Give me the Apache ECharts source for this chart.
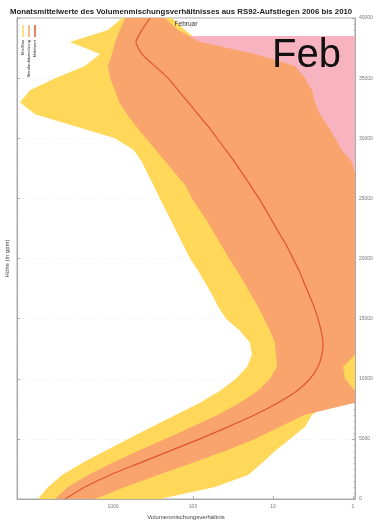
<!DOCTYPE html>
<html>
<head>
<meta charset="utf-8">
<script src="https://cdn.jsdelivr.net/npm/echarts@6/dist/echarts.min.js"></script>
<style>
  html, body { margin: 0; padding: 0; background: #fff; }
  #chart { width: 376px; height: 524px; }
</style>
</head>
<body>
<div id="chart"></div>
<script>
// Höhenstufen in gpm
const heights = [0, 1000, 2000, 3000, 4000, 5000, 6000, 7000, 8000, 9000,
    10000, 11000, 12000, 13000, 14000, 15000, 16000, 17000, 18000, 19000,
    20000, 21000, 22000, 23000, 24000, 25000, 26000, 27000, 28000, 29000,
    30000, 31000, 32000, 33000, 34000, 35000, 36000, 37000, 38000, 39000, 40000]

// Mittelwert
const meanMix = [3980, 2240, 1090, 460, 194, 81.8, 36.5, 16.8, 8.66, 5.01,
    3.45, 2.74, 2.44, 2.37, 2.51, 2.74, 3.07, 3.55, 4.10, 4.73,
    5.62, 6.68, 8.18, 10, 12.2, 15.0, 18.8, 23.7, 29.9, 38.7,
    50.1, 64.9, 86.6, 115, 154, 205, 299, 434, 516, 434, 345]

// Standardabweichung (orange), linke und rechte Kante
const sdMax = [5310, 3650, 2050, 1030, 487, 224, 103, 48.7, 25.9, 15.4,
    10.9, 8.91, 9.17, 9.44, 10.9, 12.9, 15.4, 18.8, 23.0, 28.2,
    35.5, 43.4, 53.1, 64.9, 81.8, 103, 122, 163, 218, 290,
    387, 516, 668, 841, 944, 1090, 1155, 1030, 944, 818, 708]
const sdMin = [1680, 708, 274, 103, 39.8, 16.8, 8.18, 3.98, 0.917, 0.613,
    1.26, 1.33, 0.46, 0.46, 0.46, 0.46, 0.46, 0.46, 0.46, 0.46,
    0.46, 0.46, 0.46, 0.46, 0.46, 0.46, 0.46, 0.46, 1.03, 1.37,
    1.68, 2.05, 2.59, 2.99, 3.25, 3.98, 5.31, 16.8, 81.8, 154, 224]

// Spannweite (gelb)
const rangeMax = [8660, 6490, 4340, 2440, 1260, 649, 325, 163, 81.8, 46.0,
    29.0, 21.1, 18.3, 19.4, 25.9, 38.7, 48.7, 57.9, 70.8, 86.6,
    109, 130, 154, 183, 218, 259, 307, 365, 434, 546,
    944, 2985, 9440, 14540, 10900, 5310, 2240, 1450, 3450, 1155, 772]
const rangeMin = [259, 53.1, 20.5, 13.7, 9.44, 6.13, 3.98, 3.25, 1.94, 0.708,
    0.613, 0.708, 0.46, 0.46, 0.46, 0.46, 0.46, 0.46, 0.46, 0.46,
    0.46, 0.46, 0.46, 0.46, 0.46, 0.46, 0.46, 0.46, 0.46, 0.46,
    0.46, 0.46, 0.46, 0.46, 0.46, 0.46, 0.46, 0.46, 81.8, 126, 183]

// oberer Bereich (rosa)
const pinkHeights = [26000, 28000, 30000, 32000, 34000, 36000, 37000, 38000, 38500]
const pinkMax = [18.8, 18.8, 50, 86.6, 115, 154, 205, 194, 145]
const pinkMin = [0.3, 0.3, 0.3, 0.3, 0.3, 0.3, 0.3, 0.3, 0.3]

const xTicks = [1, 10, 100, 1000]

const AXIS = '#aaa'
const LABEL = '#777'
const FONT = 'Liberation Sans, Arial, sans-serif'

function clampPts(pts, r) {
    return pts.map(p => [
        Math.min(Math.max(p[0], r.x), r.x + r.width),
        Math.min(Math.max(p[1], r.y), r.y + r.height)
    ])
}

function band(name, hs, left, right, color) {
    return {
        type: 'custom',
        name: name,
        data: hs.map((h, i) => [left[i], right[i], h]),
        encode: { x: [0, 1], y: 2 },
        silent: true,
        renderItem: (params, api) => {
            if (params.dataIndexInside !== 0) return null
            const n = params.dataInsideLength
            const pts = []
            for (let i = 0; i < n; i++) pts.push(api.coord([api.value(0, i), api.value(2, i)]))
            for (let i = n - 1; i >= 0; i--) pts.push(api.coord([api.value(1, i), api.value(2, i)]))
            return {
                type: 'polygon',
                shape: { points: clampPts(pts, params.coordSys) },
                style: { fill: color, stroke: null }
            }
        }
    }
}

const legendItems = [
    { x: 23, color: '#ffd85a', text: 'Min/Max' },
    { x: 29, color: '#f8a46c', text: 'Standardabweichung' },
    { x: 35, color: '#e0552f', text: 'Mittelwert' }
]
const legendGraphics = []
legendItems.forEach(it => {
    legendGraphics.push({
        type: 'line', z: 100, shape: { x1: it.x, y1: 25, x2: it.x, y2: 37 },
        style: { stroke: it.color, lineWidth: 1.5 }
    })
    legendGraphics.push({
        type: 'text', z: 100, x: it.x, y: 40, rotation: Math.PI / 2,
        style: { text: it.text, fontSize: 4, fill: '#333', align: 'right', verticalAlign: 'middle', fontFamily: FONT }
    })
})

const chart = echarts.init(document.getElementById('chart'))
chart.setOption({
    animation: false,
    textStyle: { fontFamily: FONT },
    title: {
        text: 'Monatsmittelwerte des Volumenmischungsverhältnisses aus RS92-Aufstiegen 2006 bis 2010',
        left: 10, top: 8, padding: 0,
        textStyle: { fontSize: 7.8, fontWeight: 'bold', color: '#222' }
    },
    grid: {
        left: 17, right: 21, top: 18, bottom: 25,
        outerBoundsMode: 'none',
        show: true, borderColor: AXIS, borderWidth: 1, backgroundColor: '#fff'
    },
    xAxis: {
        type: 'log', logBase: 10, min: 0.944, max: 15850, inverse: true,
        name: 'Volumenmischungsverhältnis', nameLocation: 'middle', nameGap: 13,
        nameTextStyle: { fontSize: 6, color: '#444' },
        axisLine: { show: true, lineStyle: { color: AXIS } },
        axisTick: { show: true, inside: true, length: 3, customValues: xTicks, lineStyle: { color: AXIS } },
        axisLabel: { fontSize: 5, color: LABEL, margin: 5, customValues: xTicks, formatter: v => String(v) },
        splitLine: { show: false }
    },
    yAxis: [
        {
            type: 'value', position: 'left', min: 0, max: 40000, interval: 5000,
            name: 'Höhe (in gpm)', nameLocation: 'middle', nameGap: 7,
            nameTextStyle: { fontSize: 6, color: '#444' },
            axisLine: { show: true, lineStyle: { color: AXIS } },
            axisTick: { show: true, inside: true, length: 3, lineStyle: { color: AXIS } },
            minorTick: { show: true, splitNumber: 10, length: 1.5, lineStyle: { color: '#bbb' } },
            axisLabel: { show: false },
            splitLine: { show: true, lineStyle: { color: '#e3e3e3', width: 0.6, type: [1, 2] } }
        },
        {
            type: 'value', position: 'right', min: 0, max: 40000, interval: 5000,
            axisLine: { show: true, lineStyle: { color: AXIS } },
            axisTick: { show: true, inside: true, length: 3, lineStyle: { color: AXIS } },
            minorTick: { show: true, splitNumber: 10, length: 1.5, lineStyle: { color: '#bbb' } },
            axisLabel: { fontSize: 5, color: LABEL, margin: 4, formatter: v => String(v) },
            splitLine: { show: false }
        }
    ],
    graphic: [
        {
            type: 'text', x: 186, y: 24, z: 100,
            style: { text: 'Februar', fontSize: 6.5, fill: '#333', align: 'center', verticalAlign: 'middle', fontFamily: FONT }
        },
        {
            type: 'text', x: 272, y: 56, z: 100,
            style: { text: 'Feb', fontSize: 40, fill: '#111', align: 'left', verticalAlign: 'middle', fontFamily: FONT }
        }
    ].concat(legendGraphics),
    series: [
        band('Min/Max', heights, rangeMax, rangeMin, '#ffd85a'),
        band('Bereich', pinkHeights, pinkMax, pinkMin, '#f7b3bf'),
        band('Standardabweichung', heights, sdMax, sdMin, '#f8a46c'),
        {
            type: 'line', name: 'Mittelwert',
            data: heights.map((h, i) => [meanMix[i], h]),
            showSymbol: false, smooth: 0.2,
            lineStyle: { color: '#e0552f', width: 1.2 },
            silent: true
        }
    ]
})
</script>
</body>
</html>
